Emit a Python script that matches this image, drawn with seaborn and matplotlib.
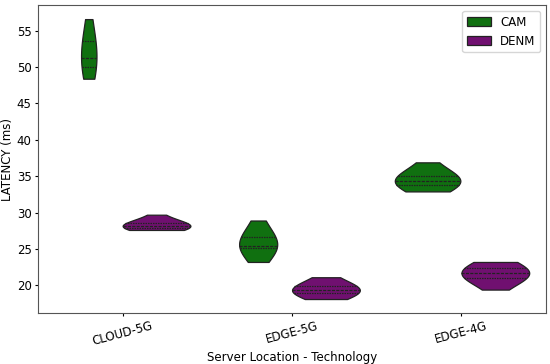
import matplotlib
matplotlib.use("Agg")
import matplotlib.pyplot as plt
import seaborn as sns
import pandas as pd

# Latências (ms)
locations = ["CLOUD-5G", "EDGE-5G", "EDGE-4G"]
types = ["CAM", "DENM"]

cloud5g_cam = [48.4, 48.9, 49.3, 49.6, 49.8, 50.0, 50.1, 50.3, 50.5, 50.7, 50.9, 51.1,
               51.4, 51.7, 52.0, 52.4, 52.9, 53.5, 54.0, 54.5, 55.0, 55.5, 56.0, 56.6]
cloud5g_denm = [27.6, 27.65, 27.7, 27.75, 27.8, 27.85, 27.88, 27.95, 28.0, 28.05, 28.1, 28.12,
                28.18, 28.2, 28.25, 28.3, 28.4, 28.5, 28.62, 28.75, 28.9, 29.1, 29.4, 29.7]
edge5g_cam = [23.2, 23.8, 24.3, 24.6, 24.85, 25.0, 25.1, 25.2, 25.25, 25.3, 25.35, 25.4,
              25.5, 25.6, 25.75, 25.9, 26.2, 26.6, 26.9, 27.2, 27.5, 27.9, 28.4, 28.9]
edge5g_denm = [18.1, 18.3, 18.5, 18.6, 18.7, 18.8, 18.9, 19.0, 19.1, 19.15, 19.2, 19.3,
               19.4, 19.45, 19.5, 19.6, 19.7, 19.8, 19.9, 20.1, 20.3, 20.6, 20.9, 21.1]
edge4g_cam = [32.9, 33.1, 33.3, 33.45, 33.6, 33.75, 33.85, 33.95, 34.05, 34.1, 34.2, 34.25,
              34.35, 34.45, 34.55, 34.7, 34.85, 35.05, 35.2, 35.4, 35.7, 36.0, 36.4, 36.9]
edge4g_denm = [19.4, 19.9, 20.3, 20.6, 20.8, 20.9, 21.0, 21.1, 21.3, 21.4, 21.5, 21.6,
               21.7, 21.8, 21.9, 22.0, 22.2, 22.35, 22.5, 22.55, 22.7, 22.85, 23.0, 23.2]

samples = {
    ("CLOUD-5G", "CAM"): cloud5g_cam,
    ("CLOUD-5G", "DENM"): cloud5g_denm,
    ("EDGE-5G", "CAM"): edge5g_cam,
    ("EDGE-5G", "DENM"): edge5g_denm,
    ("EDGE-4G", "CAM"): edge4g_cam,
    ("EDGE-4G", "DENM"): edge4g_denm,
}

rows = []
for (loc, tipo), vals in samples.items():
    for v in vals:
        rows.append({"Location": loc, "Type": tipo, "Latency": v})
df = pd.DataFrame(rows)

palette = {"CAM": "green", "DENM": "purple"}

fig, ax = plt.subplots(figsize=(5.5, 3.64), dpi=100)

# um violino por local para normalizar a área dentro de cada categoria
for i, loc in enumerate(locations):
    sns.violinplot(data=df[df["Location"] == loc], x="Location", y="Latency",
                   hue="Type", order=locations, hue_order=types, palette=palette,
                   inner="quart", cut=0, common_norm=True, bw_adjust=2.5,
                   linewidth=0.9, linecolor="#222222", legend=(i == 0), ax=ax)

sns.move_legend(ax, "upper right", title=None, fontsize=8.5)

ax.set_xlabel("Server Location - Technology", fontsize=8.5, labelpad=2)
ax.set_ylabel("LATENCY (ms)", fontsize=8.5, labelpad=2)
ax.tick_params(axis="x", rotation=15, labelsize=8.5, length=2.5, pad=2)
ax.tick_params(axis="y", labelsize=8.5, length=2.5, pad=2)
for sp in ax.spines.values():
    sp.set_color("#555555")

fig.subplots_adjust(left=0.069, right=0.993, top=0.986, bottom=0.14)
plt.savefig("out.png", dpi=100)
